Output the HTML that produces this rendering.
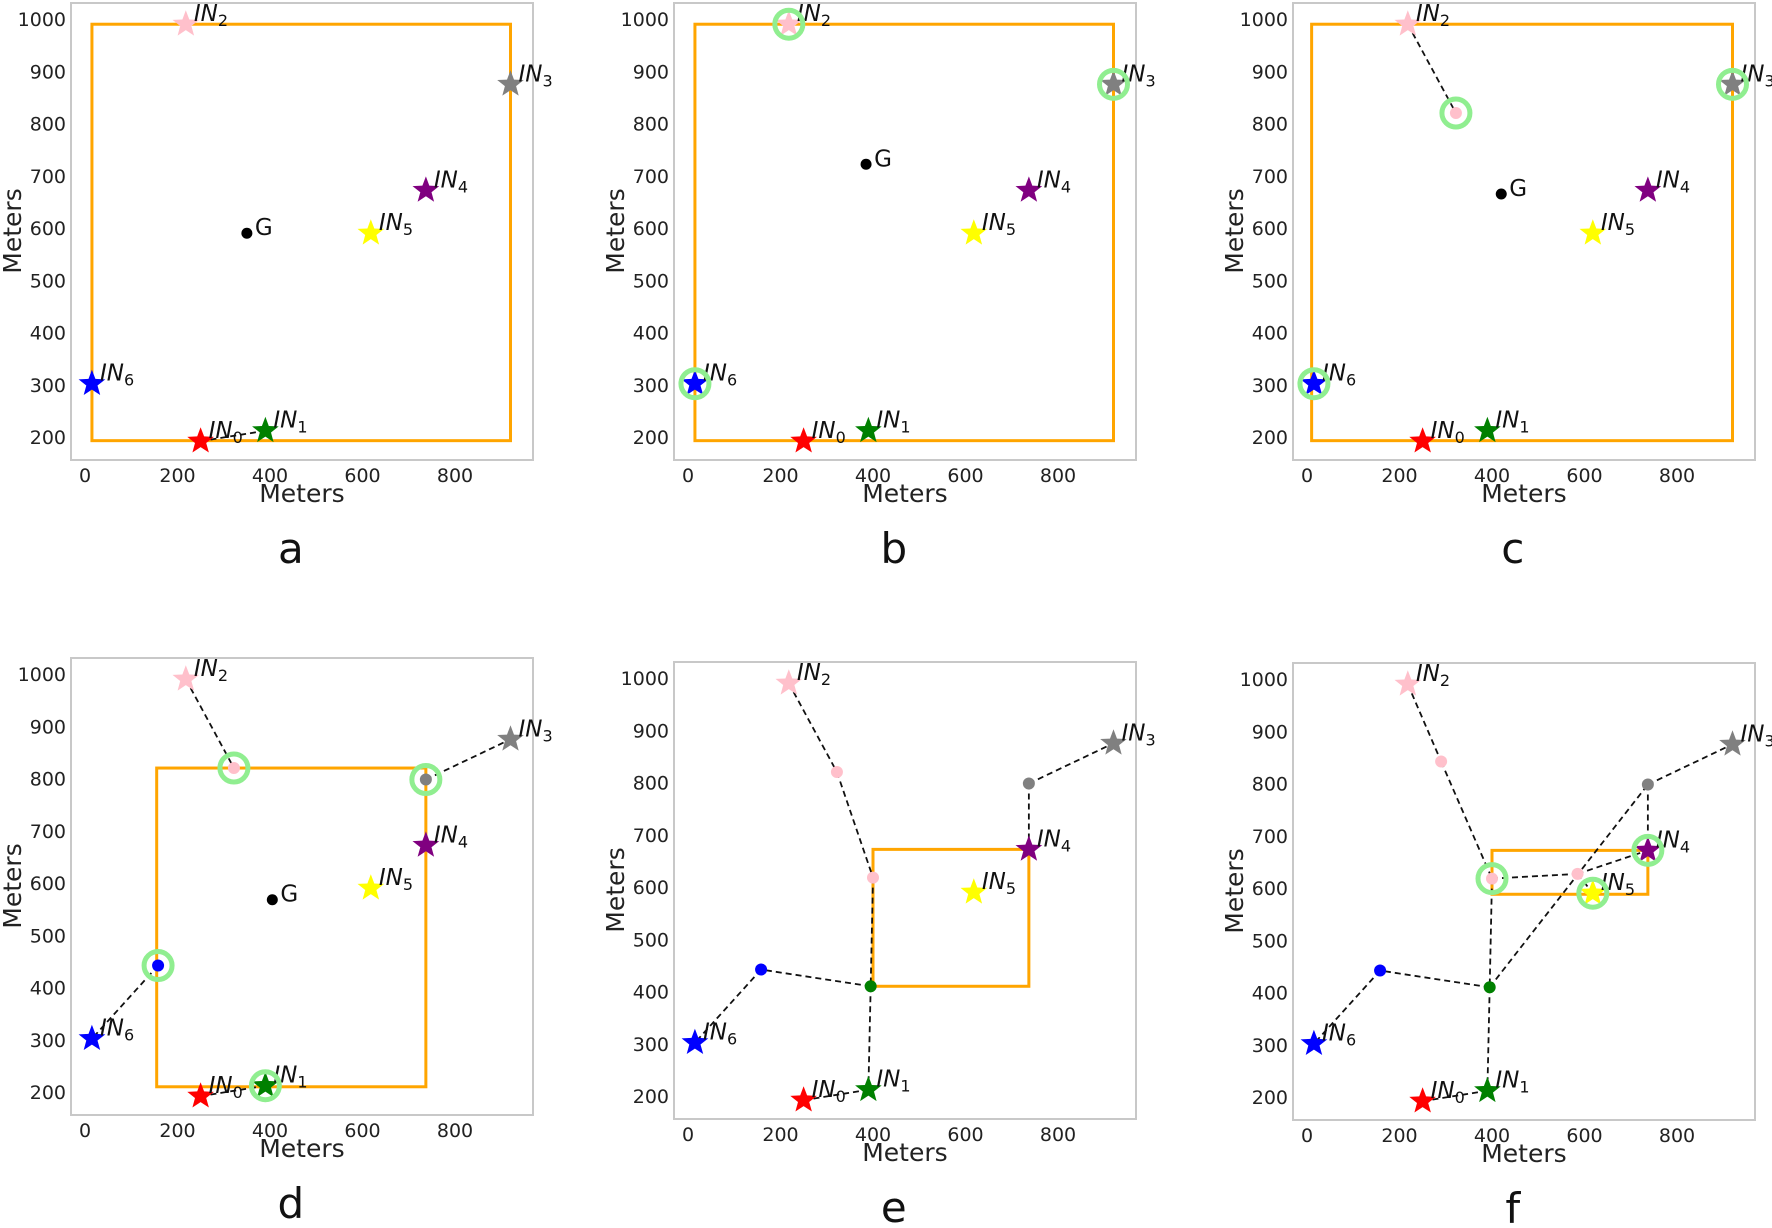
<!DOCTYPE html>
<html><head><meta charset="utf-8">
<style>
html,body{margin:0;padding:0;background:#fff;}
svg{display:block;font-family:"DejaVu Sans","Liberation Sans",sans-serif;}
</style></head>
<body>
<svg id="s" width="1772" height="1228" viewBox="0 0 1772 1228" xmlns="http://www.w3.org/2000/svg"></svg>
<script>
var S=document.getElementById('s');var NS='http://www.w3.org/2000/svg';
function el(t,a,txt){var e=document.createElementNS(NS,t);for(var k in a)e.setAttribute(k,a[k]);if(txt!==undefined)e.textContent=txt;S.appendChild(e);return e;}
var P={IN0:[250,192,'red'],IN1:[390,212,'green'],IN2:[218,990,'pink'],IN3:[920,875,'gray'],IN4:[737,672,'purple'],IN5:[618,590,'yellow'],IN6:[15,302,'blue']};
function star(cx,cy,r,c){var p=[];for(var i=0;i<10;i++){var a=-Math.PI/2+i*Math.PI/5;var rr=i%2?r*0.42:r;p.push((cx+rr*Math.cos(a)).toFixed(1)+','+(cy+rr*Math.sin(a)).toFixed(1));}el('polygon',{points:p.join(' '),fill:c});}
function panel(ox,oy,letter,d){
 var X=function(v){return ox+14+v*0.4625},Y=function(v){return oy+16+(1000-v)*0.5225};
 el('rect',{x:ox,y:oy,width:462,height:457,fill:'none',stroke:'#c8c8c8','stroke-width':2});
 for(var v=200;v<=1000;v+=100)el('text',{x:ox-5,y:Y(v)+7,'text-anchor':'end','font-size':19,fill:'#222'},v);
 for(var v=0;v<=800;v+=200)el('text',{x:X(v),y:oy+479,'text-anchor':'middle','font-size':19,fill:'#222'},v);
 el('text',{x:X(469),y:oy+499,'text-anchor':'middle','font-size':25,fill:'#222'},'Meters');
 var yc=oy+228;el('text',{x:ox-50,y:yc,'text-anchor':'middle','font-size':25,fill:'#222',transform:'rotate(-90 '+(ox-50)+' '+yc+')'},'Meters');
 el('text',{x:X(445),y:oy+560,'text-anchor':'middle','font-size':42,fill:'#111'},letter);
 var b=d.box;el('rect',{x:X(b[0]),y:Y(b[3]),width:X(b[2])-X(b[0]),height:Y(b[1])-Y(b[3]),fill:'none',stroke:'orange','stroke-width':3});
 function pt(n){return typeof n=='string'?P[n]:n;}
 d.lines.forEach(function(l){var a=pt(l[0]),c=pt(l[1]);el('line',{x1:X(a[0]),y1:Y(a[1]),x2:X(c[0]),y2:Y(c[1]),stroke:'#111','stroke-width':1.8,'stroke-dasharray':'6,4'});});
 d.dots.forEach(function(p){el('circle',{cx:X(p[0]),cy:Y(p[1]),r:6,fill:p[2]});});
 if(d.G){el('circle',{cx:X(d.G[0]),cy:Y(d.G[1]),r:5.5,fill:'#000'});el('text',{x:X(d.G[0])+8,y:Y(d.G[1])+2,'font-size':23,fill:'#111'},'G');}
 for(var k in P){var p=P[k];star(X(p[0]),Y(p[1]),14,p[2]);var t=el('text',{x:X(p[0])+8,y:Y(p[1])-3,'font-size':23,fill:'#111','font-style':'italic'},'IN');var ts=document.createElementNS(NS,'tspan');ts.setAttribute('font-size',16);ts.setAttribute('font-style','normal');ts.setAttribute('dy',5);ts.textContent=k.slice(2);t.appendChild(ts);}
 d.circ.forEach(function(n){var p=pt(n);el('circle',{cx:X(p[0]),cy:Y(p[1]),r:14,fill:'none',stroke:'#90ee90','stroke-width':5});});
}
var pk1=[322,820,'pink'],gr=[737,798,'gray'],bl=[158,442,'blue'],gn=[395,410,'green'],pk2=[400,618,'pink'];
panel(71,3,'a',{box:[15,193,920,990],lines:[['IN0','IN1']],dots:[],G:[350,590],circ:[]});
panel(674,3,'b',{box:[15,193,920,990],lines:[],dots:[],G:[385,722],circ:['IN2','IN3','IN6']});
panel(1293,3,'c',{box:[10,193,920,990],lines:[['IN2',pk1]],dots:[pk1],G:[420,665],circ:[pk1,'IN3','IN6']});
panel(71,658,'d',{box:[155,210,737,820],lines:[['IN0','IN1'],['IN2',pk1],[gr,'IN3'],[bl,'IN6']],dots:[pk1,gr,bl],G:[405,568],circ:[pk1,gr,bl,'IN1']});
panel(674,662,'e',{box:[400,410,737,672],lines:[['IN0','IN1'],['IN2',pk1],[pk1,pk2],[pk2,gn],[gn,'IN1'],[gn,bl],[bl,'IN6'],[gr,'IN3'],[gr,'IN4']],dots:[pk1,pk2,gr,bl,gn],circ:[]});
var pf1=[290,842,'pink'],pk3=[585,627,'pink'];
panel(1293,663,'f',{box:[400,588,737,672],lines:[['IN0','IN1'],['IN2',pf1],[pf1,pk2],[pk2,pk3],[pk3,'IN5'],[pk3,'IN4'],[pk2,gn],[gn,gr],[gr,'IN4'],[gr,'IN3'],[gn,bl],[bl,'IN6'],[gn,'IN1']],dots:[pf1,pk2,pk3,gr,bl,gn],circ:[pk2,'IN5','IN4']});
</script>
</body></html>
